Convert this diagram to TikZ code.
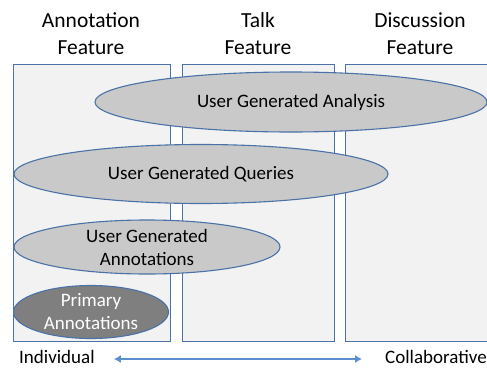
\documentclass[tikz,border=0pt]{standalone}
\usepackage{fontspec}
\setmainfont{Carlito}
\usetikzlibrary{shapes.geometric,arrows.meta}
\definecolor{boxfill}{HTML}{F2F2F2}
\definecolor{edge}{HTML}{4A72A8}
\definecolor{ovalfill}{HTML}{C9C9C9}
\definecolor{darkoval}{HTML}{7F7F7F}
\definecolor{arrowblue}{HTML}{5B8FCB}
\begin{document}
\begin{tikzpicture}[x=1pt,y=-1pt,
  feature/.style={draw=edge,fill=boxfill,line width=1pt},
  oval/.style={ellipse,draw=edge,fill=ovalfill,line width=1.1pt,inner sep=0pt},
  title/.style={align=center,font=\fontsize{21.5}{27}\selectfont},
  ovaltext/.style={align=center,font=\fontsize{19}{23}\selectfont},
  axis/.style={font=\fontsize{19}{22}\selectfont}]
\useasboundingbox (0,0) rectangle (487,367);
\begin{scope}
\clip (0,0) rectangle (487,367);
% feature columns
\path[feature] (13,64) rectangle (170,341);
\path[feature] (182,64) rectangle (334,341);
\path[feature] (345,64) rectangle (495,341);
% overlapping scopes
\node[oval,minimum width=392pt,minimum height=60pt] (analysis) at (291,102) {};
\node[oval,minimum width=374pt,minimum height=59pt] (queries) at (201,174) {};
\node[oval,minimum width=266pt,minimum height=54pt] (ugann) at (147,247) {};
\node[oval,fill=darkoval,minimum width=155pt,minimum height=53pt] (primary) at (91,312) {};
\end{scope}
\node[ovaltext] at (analysis) {User Generated Analysis};
\node[ovaltext] at (queries) {User Generated Queries};
\node[ovaltext] at (ugann) {User Generated\\Annotations};
\node[ovaltext,text=white] at (primary) {Primary\\Annotations};
% column titles
\node[title] (t1) at (91,34) {Annotation\\Feature};
\node[title] (t2) at (258,34) {Talk\\Feature};
\node[title] (t3) at (420,34) {Discussion\\Feature};
% individual-collaborative axis
\node[axis,anchor=west,inner sep=0pt] (ind) at (19,357) {Individual};
\node[axis,anchor=east,inner sep=0pt] (col) at (487,357) {Collaborative};
\draw[arrowblue,line width=1.3pt,{Latex[length=7pt,width=8pt]}-{Latex[length=7pt,width=8pt]}]
  ([xshift=19pt]ind.east |- 0,359) -- ([xshift=-23pt]col.west |- 0,359);
\end{tikzpicture}
\end{document}
